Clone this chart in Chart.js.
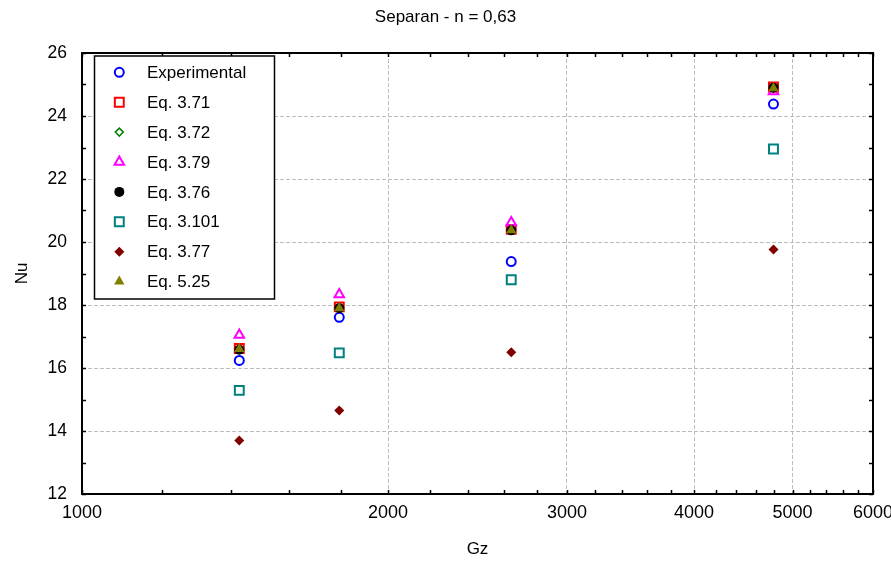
<!DOCTYPE html>
<html>
<head>
<meta charset="utf-8">
<script src="https://cdn.jsdelivr.net/npm/chart.js@4.4.0/dist/chart.umd.min.js"></script>
<style>
  html, body { margin: 0; padding: 0; background: #fff; }
  #wrap { width: 891px; height: 564px; }
</style>
</head>
<body>
<div id="wrap"><canvas id="chart"></canvas></div>
<script>
// values
var gz = [1428, 1791, 2644, 4789];
var experimental = [16.24, 17.61, 19.38, 24.38];
var eq371 = [16.62, 17.94, 20.40, 24.92];
var eq372 = [16.60, 17.92, 20.38, 24.90];
var eq379 = [17.05, 18.33, 20.62, 24.78];
var eq376 = [16.58, 17.90, 20.37, 24.90];
var eq3101 = [15.29, 16.48, 18.80, 22.95];
var eq377 = [13.70, 14.65, 16.50, 19.76];
var eq525 = [16.60, 17.90, 20.37, 24.88];

var seriesNames = ['Experimental', 'Eq. 3.71', 'Eq. 3.72', 'Eq. 3.79', 'Eq. 3.76', 'Eq. 3.101', 'Eq. 3.77', 'Eq. 5.25'];
var seriesValues = [experimental, eq371, eq372, eq379, eq376, eq3101, eq377, eq525];

var xTicks = [1000, 2000, 3000, 4000, 5000, 6000];
var yTicks = [12, 14, 16, 18, 20, 22, 24, 26];

// marker styles, same order as seriesNames
var styles = [
  { pointStyle: 'circle', radius: 4.5, border: '#0000ff', fill: 'rgba(0,0,0,0)', bw: 2 },
  { pointStyle: 'rect', radius: 6.3, border: '#ff0000', fill: 'rgba(0,0,0,0)', bw: 2 },
  { pointStyle: 'rectRot', radius: 4, border: '#008000', fill: 'rgba(0,0,0,0)', bw: 1.5 },
  { pointStyle: 'triangle', radius: 5.5, border: '#ff00ff', fill: 'rgba(0,0,0,0)', bw: 2 },
  { pointStyle: 'circle', radius: 5, border: '#000000', fill: '#000000', bw: 0 },
  { pointStyle: 'rect', radius: 6.3, border: '#008080', fill: 'rgba(0,0,0,0)', bw: 2 },
  { pointStyle: 'rectRot', radius: 5, border: '#800000', fill: '#800000', bw: 0 },
  { pointStyle: 'triangle', radius: 6, border: '#808000', fill: '#808000', bw: 0 }
];

var xAll = [];
for (var v = 1000; v <= 6000; v += 200) xAll.push(v);
var yAll = [];
for (var w = 12; w <= 26; w++) yAll.push(w);

Chart.defaults.font.family = "'Liberation Sans', Arial, sans-serif";
Chart.defaults.color = '#000';

var datasets = seriesNames.map(function(name, i) {
  var s = styles[i];
  return {
    label: name,
    data: gz.map(function(x, k) { return { x: x, y: seriesValues[i][k] }; }),
    pointStyle: s.pointStyle,
    pointRadius: s.radius,
    pointHoverRadius: s.radius,
    pointBorderWidth: s.bw,
    pointBorderColor: s.border,
    pointBackgroundColor: s.fill,
    showLine: false,
    order: seriesNames.length - i
  };
});

// box + inward ticks on all four sides
var framePlugin = {
  id: 'frame',
  beforeDatasetsDraw: function(chart) {
    var a = chart.chartArea, ctx = chart.ctx;
    var xs = chart.scales.x, ys = chart.scales.y;
    var tl = 4;
    ctx.save();
    ctx.strokeStyle = '#000';
    ctx.lineWidth = 1.5;
    ctx.beginPath();
    xAll.forEach(function(val) {
      var px = Math.round(xs.getPixelForValue(val)) + 0.5;
      ctx.moveTo(px, a.bottom); ctx.lineTo(px, a.bottom - tl);
      ctx.moveTo(px, a.top); ctx.lineTo(px, a.top + tl);
    });
    yAll.forEach(function(val) {
      var py = Math.round(ys.getPixelForValue(val)) + 0.5;
      ctx.moveTo(a.left, py); ctx.lineTo(a.left + tl, py);
      ctx.moveTo(a.right, py); ctx.lineTo(a.right - tl, py);
    });
    ctx.stroke();
    ctx.lineWidth = 2;
    ctx.strokeRect(a.left, a.top, a.right - a.left, a.bottom - a.top);
    ctx.restore();
  }
};

// boxed legend inside the plot area, top left
var legendPlugin = {
  id: 'boxLegend',
  afterDatasetsDraw: function(chart) {
    var a = chart.chartArea, ctx = chart.ctx;
    var bx = a.left + 12.5, by = a.top + 3, bw = 180, bh = 243;
    var rowH = 29.9;
    ctx.save();
    ctx.fillStyle = '#fff';
    ctx.fillRect(bx, by, bw, bh);
    ctx.strokeStyle = '#000';
    ctx.lineWidth = 1.5;
    ctx.strokeRect(bx, by, bw, bh);
    ctx.font = "17px 'Liberation Sans', Arial, sans-serif";
    ctx.textBaseline = 'middle';
    ctx.textAlign = 'left';
    seriesNames.forEach(function(name, i) {
      var s = styles[i];
      var cy = by + 16.3 + i * rowH;
      var cx = bx + 24.8;
      ctx.fillStyle = s.fill;
      ctx.strokeStyle = s.border;
      ctx.lineWidth = s.bw;
      Chart.helpers.drawPoint(ctx, { pointStyle: s.pointStyle, rotation: 0, radius: s.radius, borderWidth: s.bw }, cx, cy);
      ctx.fillStyle = '#000';
      ctx.fillText(name, bx + 52.5, cy + 1);
    });
    ctx.restore();
  }
};

new Chart(document.getElementById('chart'), {
  type: 'scatter',
  data: { datasets: datasets },
  options: {
    responsive: true,
    maintainAspectRatio: false,
    animation: false,
    devicePixelRatio: 1,
    layout: { padding: 0 },
    plugins: {
      legend: { display: false },
      tooltip: { enabled: false },
      title: {
        display: true,
        text: 'Separan - n = 0,63',
        font: { size: 17, weight: 'normal' },
        color: '#000',
        padding: { top: 7, bottom: 25.6 }
      }
    },
    scales: {
      x: {
        type: 'logarithmic',
        min: 1000,
        max: 6000,
        afterBuildTicks: function(scale) {
          scale.ticks = xAll.map(function(val) { return { value: val, major: xTicks.indexOf(val) >= 0 }; });
        },
        afterFit: function(scale) {
          scale.height = 70;
          scale.paddingRight = 18;
          scale.paddingLeft = 0;
        },
        ticks: {
          autoSkip: false,
          maxRotation: 0,
          padding: 8,
          font: { size: 18 },
          callback: function(val) { return xTicks.indexOf(val) >= 0 ? String(val) : ''; }
        },
        grid: {
          drawTicks: false,
          lineWidth: 1,
          color: function(ctx) {
            var val = ctx.tick && ctx.tick.value;
            return (xTicks.indexOf(val) > 0 && val !== 6000) ? '#bdbdbd' : 'rgba(0,0,0,0)';
          }
        },
        border: { display: false, dash: [4, 2] },
        title: {
          display: true,
          text: 'Gz',
          font: { size: 17 },
          padding: { top: 0, bottom: 4 }
        }
      },
      y: {
        type: 'linear',
        min: 12,
        max: 26,
        afterBuildTicks: function(scale) {
          scale.ticks = yAll.map(function(val) { return { value: val }; });
        },
        afterFit: function(scale) {
          scale.width = 82;
        },
        ticks: {
          autoSkip: false,
          padding: 15,
          font: { size: 17.5 },
          callback: function(val) { return yTicks.indexOf(val) >= 0 ? String(val) : ''; }
        },
        grid: {
          drawTicks: false,
          lineWidth: 1,
          color: function(ctx) {
            var val = ctx.tick && ctx.tick.value;
            return (yTicks.indexOf(val) > 0 && val !== 26) ? '#bdbdbd' : 'rgba(0,0,0,0)';
          }
        },
        border: { display: false, dash: [4, 2] },
        title: {
          display: true,
          text: 'Nu',
          font: { size: 17 },
          padding: { top: 12, bottom: 0 }
        }
      }
    }
  },
  plugins: [framePlugin, legendPlugin]
});
</script>
</body>
</html>
